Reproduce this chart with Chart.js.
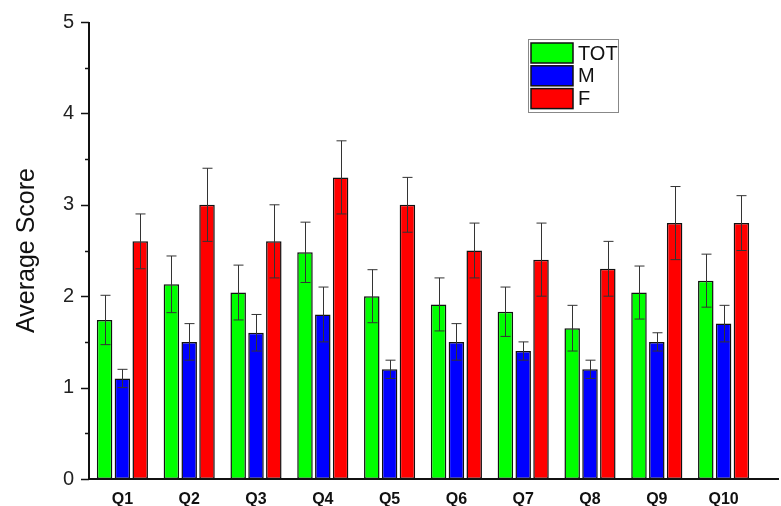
<!DOCTYPE html>
<html>
<head>
<meta charset="utf-8">
<script src="https://cdn.jsdelivr.net/npm/chart.js@4/dist/chart.umd.min.js"></script>
<style>
  html, body { margin: 0; padding: 0; background: #fff; }
  #wrap { width: 781px; height: 506px; position: relative; }
</style>
</head>
<body>
<div id="wrap"><canvas id="chart"></canvas></div>
<script>
// data
const categories = ['Q1', 'Q2', 'Q3', 'Q4', 'Q5', 'Q6', 'Q7', 'Q8', 'Q9', 'Q10'];
const totValues = [1.74, 2.13, 2.04, 2.48, 2.00, 1.91, 1.83, 1.65, 2.04, 2.17];
const totErrors = [0.27, 0.31, 0.30, 0.33, 0.29, 0.29, 0.27, 0.25, 0.29, 0.29];
const mValues = [1.10, 1.50, 1.60, 1.80, 1.20, 1.50, 1.40, 1.20, 1.50, 1.70];
const mErrors = [0.10, 0.20, 0.20, 0.30, 0.10, 0.20, 0.10, 0.10, 0.10, 0.20];
const fValues = [2.60, 3.00, 2.60, 3.30, 3.00, 2.50, 2.40, 2.30, 2.80, 2.80];
const fErrors = [0.30, 0.40, 0.40, 0.40, 0.30, 0.30, 0.40, 0.30, 0.40, 0.30];
const yTicks = [0, 1, 2, 3, 4, 5];

const FONT = "Arial, 'Liberation Sans', sans-serif";

// error bars drawn through the y scale
const errorBars = {
  id: 'errorBars',
  afterDatasetsDraw(chart) {
    const ctx = chart.ctx;
    const y = chart.scales.y;
    ctx.save();
    ctx.strokeStyle = '#333';
    ctx.lineWidth = 1;
    chart.data.datasets.forEach((ds, i) => {
      const meta = chart.getDatasetMeta(i);
      meta.data.forEach((bar, j) => {
        const v = ds.data[j];
        const e = ds.errors[j];
        const top = y.getPixelForValue(v + e);
        const bot = y.getPixelForValue(v - e);
        const x = Math.round(bar.x) + 0.5;
        ctx.beginPath();
        ctx.moveTo(x, top); ctx.lineTo(x, bot);
        ctx.moveTo(x - 5, top); ctx.lineTo(x + 5, top);
        ctx.moveTo(x - 5, bot); ctx.lineTo(x + 5, bot);
        ctx.stroke();
      });
    });
    ctx.restore();
  }
};

// axis lines with major / minor ticks
const axisLines = {
  id: 'axisLines',
  afterDraw(chart) {
    const ctx = chart.ctx;
    const area = chart.chartArea;
    const y = chart.scales.y;
    ctx.save();
    ctx.strokeStyle = '#111';
    ctx.lineWidth = 2;
    ctx.beginPath();
    ctx.moveTo(area.left, area.top);
    ctx.lineTo(area.left, area.bottom);
    ctx.moveTo(area.left - 1, area.bottom);
    ctx.lineTo(chart.width - 2, area.bottom);
    ctx.stroke();
    ctx.lineWidth = 1.5;
    for (let v = 0; v <= 5; v += 0.5) {
      const py = Math.round(y.getPixelForValue(v)) + 0.5;
      const len = Number.isInteger(v) ? 8 : 4;
      ctx.beginPath();
      ctx.moveTo(area.left - len, py);
      ctx.lineTo(area.left, py);
      ctx.stroke();
    }
    ctx.restore();
  }
};

// boxed legend in the top right of the plot
const boxLegend = {
  id: 'boxLegend',
  afterDraw(chart) {
    const ctx = chart.ctx;
    const x0 = 528, y0 = 39, w = 90, h = 73;
    ctx.save();
    ctx.fillStyle = '#fff';
    ctx.fillRect(x0, y0, w, h);
    ctx.strokeStyle = '#888';
    ctx.lineWidth = 1;
    ctx.strokeRect(x0 + 0.5, y0 + 0.5, w, h);
    ctx.font = '20px ' + FONT;
    ctx.textBaseline = 'middle';
    chart.data.datasets.forEach((ds, i) => {
      const sy = y0 + 4 + i * 22.8;
      ctx.fillStyle = ds.backgroundColor;
      ctx.fillRect(x0 + 3, sy, 42, 20);
      ctx.strokeStyle = '#111';
      ctx.lineWidth = 1.5;
      ctx.strokeRect(x0 + 3, sy, 42, 20);
      ctx.fillStyle = '#111';
      ctx.fillText(ds.label, x0 + 50, sy + 11);
    });
    ctx.restore();
  }
};

function makeSet(label, color, values, errors) {
  return {
    label: label,
    data: values,
    errors: errors,
    backgroundColor: color,
    borderColor: '#111',
    borderWidth: 1.5,
    borderSkipped: false,
    categoryPercentage: 0.8,
    barPercentage: 0.87
  };
}

new Chart(document.getElementById('chart'), {
  type: 'bar',
  data: {
    labels: categories,
    datasets: [
      makeSet('TOT', '#00ff00', totValues, totErrors),
      makeSet('M', '#0000ff', mValues, mErrors),
      makeSet('F', '#ff0000', fValues, fErrors)
    ]
  },
  options: {
    responsive: true,
    maintainAspectRatio: false,
    animation: false,
    layout: { padding: { top: 22, right: 24, left: 0, bottom: 0 } },
    plugins: {
      legend: { display: false },
      tooltip: { enabled: false }
    },
    scales: {
      x: {
        grid: { display: false, drawTicks: false },
        border: { display: false },
        ticks: {
          color: '#111',
          padding: 11,
          font: { family: FONT, size: 16, weight: 'bold' }
        },
        afterFit(scale) { scale.height = 27; }
      },
      y: {
        min: 0,
        max: 5,
        afterBuildTicks(scale) { scale.ticks = yTicks.map(v => ({ value: v })); },
        grid: { display: false, drawTicks: false },
        border: { display: false },
        ticks: {
          color: '#222',
          padding: 15,
          font: { family: FONT, size: 20 }
        },
        title: {
          display: true,
          text: 'Average Score',
          color: '#111',
          padding: { top: 12, bottom: 0 },
          font: { family: FONT, size: 25 }
        },
        afterFit(scale) {
          scale.width = 89;
          scale.paddingTop = 0;
          scale.paddingBottom = 0;
        }
      }
    }
  },
  plugins: [errorBars, axisLines, boxLegend]
});
</script>
</body>
</html>
